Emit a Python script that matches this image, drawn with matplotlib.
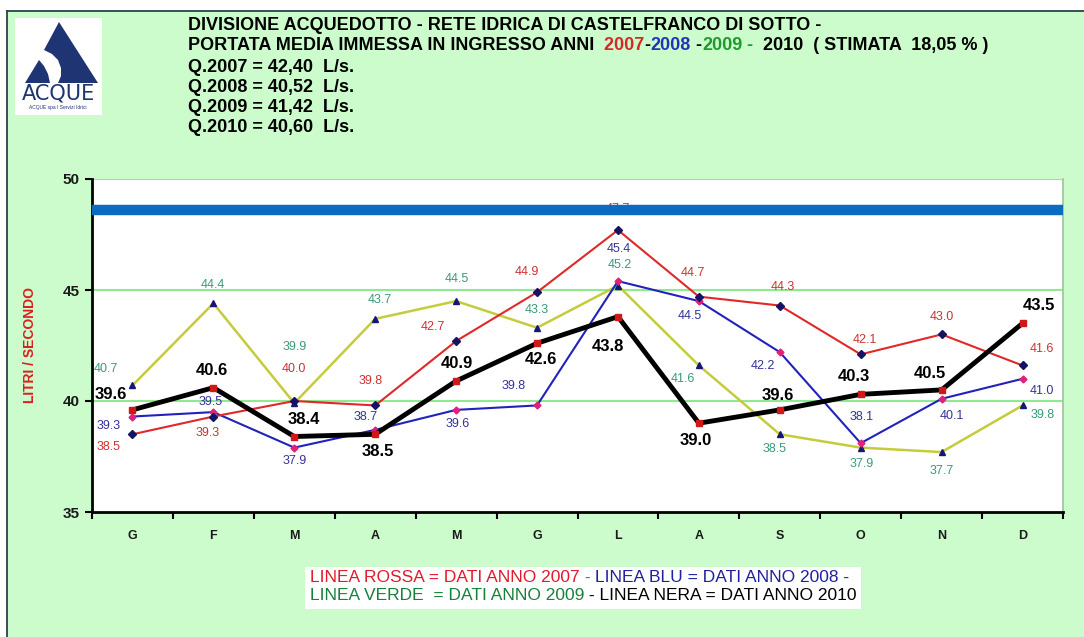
import numpy as np
import matplotlib
matplotlib.use('Agg')
from matplotlib import pyplot as plt
from matplotlib.patches import Rectangle, Polygon
from matplotlib.offsetbox import TextArea, HPacker, AnnotationBbox

#dati mensili portata media (L/s)
mesi = ['G', 'F', 'M', 'A', 'M', 'G', 'L', 'A', 'S', 'O', 'N', 'D']
q2007 = [38.5, 39.3, 40.0, 39.8, 42.7, 44.9, 47.7, 44.7, 44.3, 42.1, 43.0, 41.6]
q2008 = [39.3, 39.5, 37.9, 38.7, 39.6, 39.8, 45.4, 44.5, 42.2, 38.1, 40.1, 41.0]
q2009 = [40.7, 44.4, 39.9, 43.7, 44.5, 43.3, 45.2, 41.6, 38.5, 37.9, 37.7, 39.8]
q2010 = [39.6, 40.6, 38.4, 38.5, 40.9, 42.6, 43.8, 39.0, 39.6, 40.3, 40.5, 43.5]
anni = ['2007', '2008', '2009', '2010']
medie = ['42,40', '40,52', '41,42', '40,60']
limite = 48.6
y_ticks = [35, 40, 45, 50]

FONT = 'Liberation Sans'
plt.rcParams['font.family'] = FONT

W, H = 1084, 637
fig = plt.figure(figsize=(W / 100, H / 100), dpi=100)

#sfondo in coordinate pixel
bg = fig.add_axes([0, 0, 1, 1], zorder=-1)
bg.set_xlim(0, W)
bg.set_ylim(H, 0)
bg.axis('off')
bg.add_patch(Rectangle((7, 11), W, H, facecolor='#ccfccc', edgecolor='none'))
bg.plot([7, W], [11, 11], color='#2e3e4e', lw=1.3)
bg.plot([7, 7], [11, H], color='#2e3e4e', lw=1.3)

#logo
bg.add_patch(Rectangle((15, 18), 87, 97, facecolor='white', edgecolor='none'))
bg.add_patch(Polygon([(59, 22), (98, 83), (58, 83), (61, 76), (61, 68), (58, 60),
                      (52, 54), (44, 50)], closed=True, facecolor='#1f3472', edgecolor='none'))
bg.add_patch(Polygon([(25, 83), (39, 60), (44, 66), (48, 74), (50, 83)], closed=True,
                     facecolor='#1f3472', edgecolor='none'))
bg.text(58, 94, 'ACQUE', color='#1f3472', fontsize=15, ha='center', va='center', family='DejaVu Sans')
bg.text(58, 108, 'ACQUE spa I Servizi Idrici', color='#1f3472', fontsize=3.5, ha='center', va='center')


def riga(x, y, parti, size, weight='normal'):
    boxes = [TextArea(s, textprops=dict(color=c, fontsize=size, fontweight=weight, family=FONT))
             for s, c in parti]
    pack = HPacker(children=boxes, align='baseline', pad=0, sep=0)
    ab = AnnotationBbox(pack, (x, y), xycoords='data', box_alignment=(0, 0.5), frameon=False)
    bg.add_artist(ab)


RED, BLUE, GREEN = '#d42a2a', '#2233bb', '#1e9a2e'
riga(188, 26, [('DIVISIONE ACQUEDOTTO - RETE IDRICA DI CASTELFRANCO DI SOTTO -', 'black')], 13, 'bold')
riga(188, 46, [('PORTATA MEDIA IMMESSA IN INGRESSO ANNI', 'black'), ('  2007', RED), ('-', 'black'),
               ('2008', BLUE), (' -', 'black'), ('2009', GREEN), (' -', GREEN),
               ('  2010  ( STIMATA  18,05 % )', 'black')], 13, 'bold')
for k in range(4):
    riga(188, 67 + 20 * k, [('Q.' + anni[k] + ' = ' + medie[k] + '  L/s.', 'black')], 13, 'bold')

#legenda in basso
bg.add_patch(Rectangle((305, 567), 556, 42, facecolor='white', edgecolor='none'))
riga(310, 578, [('LINEA ROSSA = DATI ANNO 2007', '#e01b2b'), (' - ', '#b05050'),
                ('LINEA BLU = DATI ANNO 2008 -', '#2020a0')], 12.5)
riga(310, 596, [('LINEA VERDE  = DATI ANNO 2009', '#17803a'),
                (' - LINEA NERA = DATI ANNO 2010', 'black')], 12.5)

bg.text(30, 345, 'LITRI / SECONDO', rotation=90, color='#dd1f1f', fontsize=10,
        fontweight='bold', ha='center', va='center')

#grafico
ax = fig.add_axes([92 / W, 1 - 512 / H, (1063 - 92) / W, (512 - 179) / H])
ax.set_facecolor('white')
x = np.arange(len(mesi))

ax.axhline(limite, color='#0a6cc0', lw=7.5, zorder=6)
ax.plot(x, q2009, color='#c4cc3c', lw=1.8, marker='^', ms=5, mfc='#16167a', mec='#16167a', zorder=3)
ax.plot(x, q2008, color='#2222bb', lw=1.5, marker='D', ms=3.5, mfc='#e0207a', mec='#e0207a', zorder=3)
ax.plot(x, q2007, color='#e02828', lw=1.5, marker='D', ms=4, mfc='#141464', mec='#141464', zorder=3)
ax.plot(x, q2010, color='black', lw=3.5, marker='s', ms=5, mfc='#d01818', mec='#d01818', zorder=4)

#posizione etichette (dx, dy in pixel, dy verso il basso)
off2007 = [(-24, 13), (-6, 16), (0, -32), (-5, -24), (-23, -14), (-10, -20), (0, -21), (-6, -24),
           (3, -19), (4, -14), (0, -17), (19, -16)]
off2008 = [(-24, 9), (-3, -10), (0, 13), (-10, -13), (2, 14), (-23, -19), (1, -32), (-9, 15),
           (-17, 14), (1, -26), (10, 17), (19, 12)]
off2009 = [(-27, -16), (0, -18), (0, -56), (5, -19), (1, -22), (0, -18), (2, -21), (-16, 14),
           (-5, 15), (1, 16), (0, 19), (20, 10)]
off2010 = [(-22, -15), (-1, -17), (10, -17), (3, 17), (1, -18), (4, 16), (-10, 30), (-3, 17),
           (-2, -14), (-7, -18), (-12, -16), (16, -18)]

serie = [(q2007, off2007, '#cc3333', 9, 'normal', 5),
         (q2008, off2008, '#333399', 9, 'normal', 5),
         (q2009, off2009, '#3a9a7a', 9, 'normal', 5),
         (q2010, off2010, 'black', 12, 'bold', 7)]
for vals, offs, col, fs, fw, z in serie:
    for i, v in enumerate(vals):
        ax.annotate('%.1f' % v, (i, v), xytext=(offs[i][0], -offs[i][1]), textcoords='offset pixels',
                    ha='center', va='center', color=col, fontsize=fs, fontweight=fw, zorder=z)

ax.set_xlim(-0.5, 11.5)
ax.set_ylim(35, 50)
ax.set_yticks(y_ticks)
ax.set_yticklabels([str(t) for t in y_ticks], fontsize=11, fontweight='bold', color='#1a1a1a')
for t in y_ticks[1:]:
    ax.axhline(t, color='#90e890', lw=1.5, zorder=1)

ax.set_xticks(x)
ax.set_xticklabels(mesi, fontsize=9, fontweight='bold', color='#1a1a1a')
ax.set_xticks(np.arange(-0.5, 12, 1), minor=True)
ax.tick_params(axis='x', which='major', length=0, pad=13)
ax.tick_params(axis='x', which='minor', length=5, width=1.5, direction='out', color='black')
ax.tick_params(axis='y', length=5, width=1.5, direction='out', color='black', pad=4)

ax.spines['left'].set_linewidth(2)
ax.spines['bottom'].set_linewidth(2)
ax.spines['top'].set_visible(False)
ax.spines['right'].set_color('#9cc49c')
ax.spines['right'].set_linewidth(1.2)

plt.savefig('out.png', dpi=100)
plt.close()
